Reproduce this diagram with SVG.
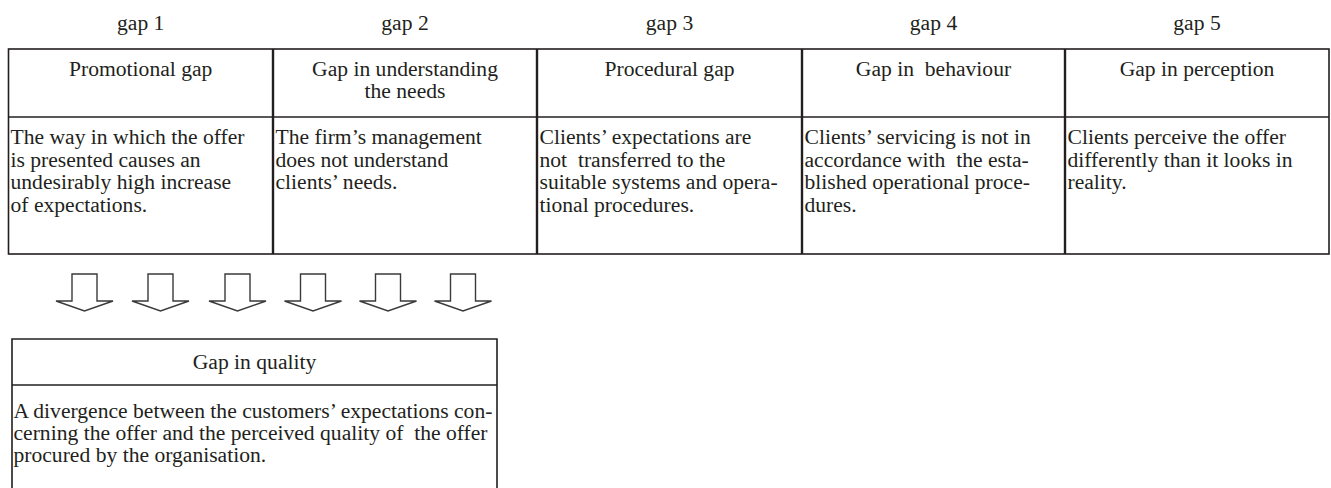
<svg xmlns="http://www.w3.org/2000/svg" width="1331" height="488" viewBox="0 0 1331 488" font-family="'Liberation Serif', 'Times New Roman', 'DejaVu Serif', serif">
<defs>
<style>
text{font-size:21.6px;fill:#231f20;white-space:pre}
.c{text-anchor:middle}
.frame{fill:none;stroke:#231f20;stroke-width:1.6}
.div{stroke:#231f20;stroke-width:2.4}
.hl{stroke:#231f20;stroke-width:1.4}
.arrow{fill:#fff;stroke:#3a3a3a;stroke-width:1.4;stroke-linejoin:miter}
</style>
<path id="arr" class="arrow" d="M-12.5,0 H12.5 V27 H28.5 L0,37 L-28.5,27 H-12.5 Z"/>
</defs>
<rect width="1331" height="488" fill="#fff"/>

<g id="labels">
<text class="c" x="140.7" y="30">gap 1</text>
<text class="c" x="405" y="30">gap 2</text>
<text class="c" x="669.5" y="30">gap 3</text>
<text class="c" x="933.5" y="30">gap 4</text>
<text class="c" x="1197" y="30">gap 5</text>
</g>

<g id="table-grid">
<rect class="frame" x="8.5" y="49" width="1320.5" height="205"/>
<line class="hl" x1="8.5" y1="117" x2="1329" y2="117"/>
<line class="div" x1="273" y1="49" x2="273" y2="254"/>
<line class="div" x1="537" y1="49" x2="537" y2="254"/>
<line class="div" x1="802" y1="49" x2="802" y2="254"/>
<line class="div" x1="1065" y1="49" x2="1065" y2="254"/>
</g>

<g id="gap1">
<text class="c" x="140.7" y="76">Promotional gap</text>
<text x="10.5" y="144">The way in which the offer</text>
<text x="10.5" y="166.7">is presented causes an</text>
<text x="10.5" y="189.3">undesirably high increase</text>
<text x="10.5" y="212">of expectations.</text>
</g>
<g id="gap2">
<text class="c" x="405" y="76">Gap in understanding</text>
<text class="c" x="405" y="98">the needs</text>
<text x="275.5" y="144">The firm’s management</text>
<text x="275.5" y="166.7">does not understand</text>
<text x="275.5" y="189.3">clients’ needs.</text>
</g>
<g id="gap3">
<text class="c" x="669.5" y="76">Procedural gap</text>
<text x="539.5" y="144">Clients’ expectations are</text>
<text x="539.5" y="166.7">not  transferred to the</text>
<text x="539.5" y="189.3">suitable systems and opera-</text>
<text x="539.5" y="212">tional procedures.</text>
</g>
<g id="gap4">
<text class="c" x="933.5" y="76">Gap in  behaviour</text>
<text x="804.5" y="144">Clients’ servicing is not in</text>
<text x="804.5" y="166.7">accordance with  the esta-</text>
<text x="804.5" y="189.3">blished operational proce-</text>
<text x="804.5" y="212">dures.</text>
</g>
<g id="gap5">
<text class="c" x="1197" y="76">Gap in perception</text>
<text x="1067.5" y="144">Clients perceive the offer</text>
<text x="1067.5" y="166.7">differently than it looks in</text>
<text x="1067.5" y="189.3">reality.</text>
</g>

<g id="connectors">
<use href="#arr" x="84.5" y="274"/>
<use href="#arr" x="160.5" y="274"/>
<use href="#arr" x="237.5" y="274"/>
<use href="#arr" x="313" y="274"/>
<use href="#arr" x="388" y="274"/>
<use href="#arr" x="463" y="274"/>
</g>

<g id="gap-quality">
<path class="frame" d="M12,490 V339 H497 V490"/>
<line class="hl" x1="12" y1="385" x2="497" y2="385"/>
<text class="c" x="254.5" y="369">Gap in quality</text>
<text x="13.5" y="418">A divergence between the customers’ expectations con-</text>
<text x="13.5" y="440">cerning the offer and the perceived quality of  the offer</text>
<text x="13.5" y="462">procured by the organisation.</text>
</g>
</svg>
